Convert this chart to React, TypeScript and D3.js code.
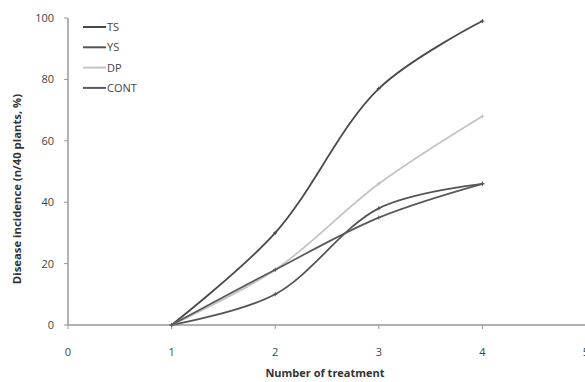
import React from "react";
import * as d3 from "d3";

const xValues = [1, 2, 3, 4];
const tsValues = [0, 30, 77, 99];
const ysValues = [0, 10, 38, 46];
const dpValues = [0, 18, 46, 68];
const contValues = [0, 18, 35, 46];
const seriesNames = ["TS", "YS", "DP", "CONT"];
const seriesColors = ["#4a4a4a", "#555555", "#c4c4c4", "#5a5a5a"];
const xTicks = [0, 1, 2, 3, 4, 5];
const yTicks = [0, 20, 40, 60, 80, 100];

export default function App() {
  const W = 585, H = 382;
  const x = d3.scaleLinear().domain([0, 5]).range([68, 586]);
  const y = d3.scaleLinear().domain([0, 100]).range([325, 18]);
  const all = [tsValues, ysValues, dpValues, contValues];
  const line = d3
    .line<number>()
    .x((_, i) => x(xValues[i]))
    .y((d) => y(d))
    .curve(d3.curveCatmullRom.alpha(0.5));
  const font = "'Open Sans', 'DejaVu Sans', sans-serif";
  return (
    <svg width={W} height={H} style={{ position: "absolute", left: 0, top: 0, background: "#fff" }}>
      {/* axes */}
      <line x1={x(0)} x2={W} y1={y(0)} y2={y(0)} stroke="#999" strokeWidth={1.5} />
      <line x1={x(0)} x2={x(0)} y1={y(100)} y2={y(0)} stroke="#999" strokeWidth={1.5} />
      {yTicks.map((t) => (
        <g key={"y" + t}>
          <line x1={x(0) - 4} x2={x(0)} y1={y(t)} y2={y(t)} stroke="#999" />
          <text x={54} y={y(t) + 4} textAnchor="end" fontSize={11} fill="#444" fontFamily={font}>
            {t}
          </text>
        </g>
      ))}
      {xTicks.map((t) => (
        <g key={"x" + t}>
          <line x1={x(t)} x2={x(t)} y1={y(0)} y2={y(0) + 4} stroke="#999" />
          <text x={x(t)} y={356} textAnchor="middle" fontSize={11} fill="#444" fontFamily={font}>
            {t}
          </text>
        </g>
      ))}
      {/* series */}
      {all.map((vals, si) => (
        <g key={seriesNames[si]}>
          <path d={line(vals) || ""} fill="none" stroke={seriesColors[si]} strokeWidth={1.8} />
          {vals.map((v, i) => (
            <g key={i}>
              <line x1={x(xValues[i]) - 2} x2={x(xValues[i]) + 2} y1={y(v)} y2={y(v)} stroke={seriesColors[si]} />
              <line x1={x(xValues[i])} x2={x(xValues[i])} y1={y(v) - 2} y2={y(v) + 2} stroke={seriesColors[si]} />
            </g>
          ))}
        </g>
      ))}
      {/* legend */}
      {seriesNames.map((n, i) => (
        <g key={"lg" + n}>
          <line x1={83} x2={106} y1={27 + i * 20.3} y2={27 + i * 20.3} stroke={seriesColors[i]} strokeWidth={2} />
          <text x={107} y={31 + i * 20.3} fontSize={11} fill="#444" fontFamily={font}>
            {n}
          </text>
        </g>
      ))}
      {/* axis titles */}
      <text x={325} y={377} textAnchor="middle" fontSize={11} fontWeight="bold" fill="#333" fontFamily={font}>
        Number of treatment
      </text>
      <text
        transform={`translate(21, 189) rotate(-90)`}
        textAnchor="middle"
        fontSize={11.3}
        fontWeight="bold"
        fill="#333"
        fontFamily={font}
      >
        Disease incidence (n/40 plants, %)
      </text>
    </svg>
  );
}
